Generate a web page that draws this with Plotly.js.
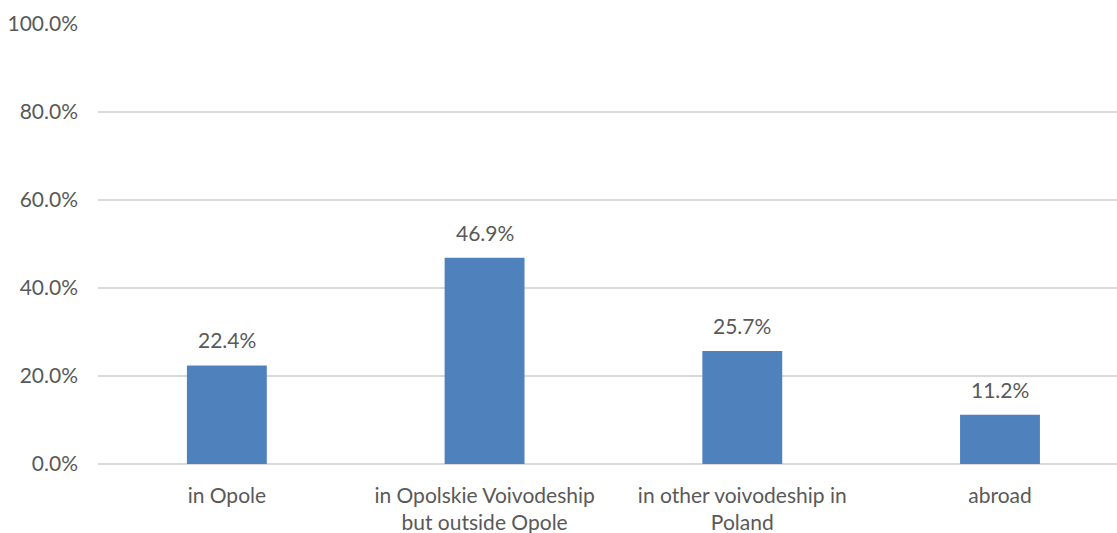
<!DOCTYPE html>
<html><head><meta charset="utf-8">
<script src="https://cdn.plot.ly/plotly-3.0.1.min.js"></script>
<style>html,body{margin:0;padding:0;background:#fff}#chart{width:1117px;height:533px}</style>
</head><body><div id="chart"></div>
<script>
const categories = ["in Opole", "in Opolskie Voivodeship<br>but outside Opole", "in other voivodeship in<br>Poland", "abroad"];
const values = [0.224, 0.469, 0.257, 0.112];
const labels = ["22.4%", "46.9%", "25.7%", "11.2%"];
const yTicks = [0, 0.2, 0.4, 0.6, 0.8, 1.0];
const yTickLabels = ["0.0%", "20.0%", "40.0%", "60.0%", "80.0%", "100.0%"];

const fontFam = "Lato, 'Open Sans', sans-serif";
const grey = "#595959";

const trace = {
  type: "bar",
  x: [0,1,2,3],
  y: values,
  width: 0.31,
  marker: {color: "#4F81BD"},
  hoverinfo: "none"
};

const annotations = values.map((v, i) => ({
  x: i, y: v, xref: "x", yref: "y",
  text: labels[i], showarrow: false,
  yanchor: "bottom", yshift: 11,
  font: {family: fontFam, size: 21, color: grey}
}));

const layout = {
  width: 1117, height: 533,
  margin: {l: 98, r: 0, t: 24, b: 69},
  paper_bgcolor: "#fff", plot_bgcolor: "#fff",
  showlegend: false,
  xaxis: {
    range: [-0.5, 3.454],
    tickmode: "array", tickvals: [0,1,2,3], ticktext: categories,
    showgrid: false, zeroline: false, showline: false,
    ticks: "", ticklabelstandoff: 17,
    tickfont: {family: fontFam, size: 21, color: grey}
  },
  yaxis: {
    range: [0, 1],
    tickmode: "array", tickvals: yTicks, ticktext: yTickLabels,
    showgrid: true, gridcolor: "#D9D9D9", gridwidth: 1.5,
    zeroline: true, zerolinecolor: "#D9D9D9", zerolinewidth: 1.5,
    showline: false, ticks: "", ticklabelstandoff: 19,
    tickfont: {family: fontFam, size: 21, color: grey}
  },
  annotations: annotations
};

Plotly.newPlot("chart", [trace], layout, {staticPlot: true, displayModeBar: false});
</script></body></html>
